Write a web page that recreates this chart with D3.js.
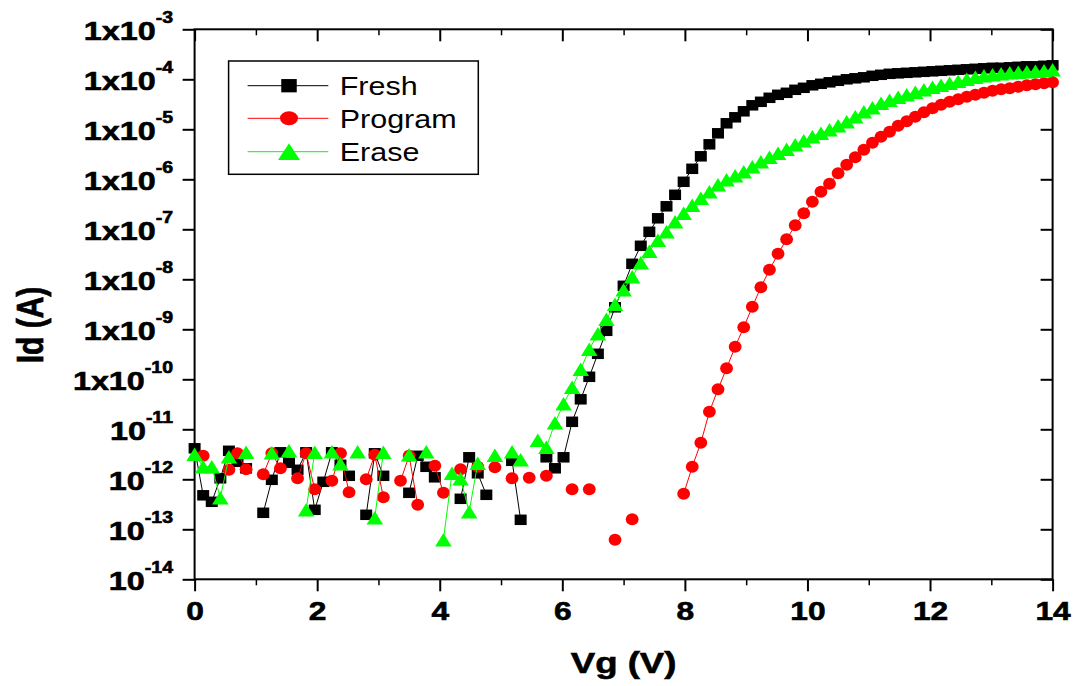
<!DOCTYPE html>
<html>
<head>
<meta charset="utf-8">
<script src="https://cdn.jsdelivr.net/npm/d3@7"></script>
<style>
body{margin:0;background:#fff}
svg{display:block}
</style>
</head>
<body>
<script>
var W = 1081, H = 686;
var L = 194.6, R = 1052.6, T = 29.3, B = 579.3;
var SX = 1.22; // the original picture is stretched sideways, text too

// gate sweep, V
var vg = [0,0.14,0.28,0.42,0.56,0.7,0.84,0.98,1.12,1.26,
  1.4,1.54,1.68,1.82,1.96,2.1,2.24,2.38,2.52,2.66,
  2.8,2.94,3.08,3.22,3.36,3.5,3.64,3.78,3.92,4.06,
  4.2,4.34,4.48,4.62,4.76,4.9,5.04,5.18,5.32,5.46,
  5.6,5.74,5.88,6.02,6.16,6.3,6.44,6.58,6.72,6.86,
  7,7.14,7.28,7.42,7.56,7.7,7.84,7.98,8.12,8.26,
  8.4,8.54,8.68,8.82,8.96,9.1,9.24,9.38,9.52,9.66,
  9.8,9.94,10.08,10.22,10.36,10.5,10.64,10.78,10.92,11.06,
  11.2,11.34,11.48,11.62,11.76,11.9,12.04,12.18,12.32,12.46,
  12.6,12.74,12.88,13.02,13.16,13.3,13.44,13.58,13.72,13.86,
  14];

// log10(Id), null = point not shown
var freshLog = [-11.38,-12.32,-12.45,-11.98,-11.43,-11.65,-11.78,null,-12.67,-12.01,
  -11.46,-11.67,-11.81,-11.46,-12.61,-12.05,-11.46,-11.71,-11.93,null,
  -12.71,-11.48,-11.93,null,null,-12.27,-11.53,-11.75,-11.96,null,
  null,-12.39,-11.56,-11.88,-12.31,null,null,-11.63,-12.81,null,
  null,-11.56,-11.78,-11.56,-10.85,-10.40,-9.95,-9.49,-9.03,-8.56,
  -8.13,-7.69,-7.33,-7.05,-6.78,-6.54,-6.31,-6.05,-5.79,-5.54,
  -5.30,-5.08,-4.88,-4.76,-4.64,-4.52,-4.45,-4.37,-4.31,-4.27,
  -4.21,-4.17,-4.12,-4.09,-4.06,-4.03,-4.00,-3.98,-3.96,-3.93,
  -3.91,-3.89,-3.88,-3.87,-3.86,-3.85,-3.84,-3.83,-3.82,-3.81,
  -3.80,-3.79,-3.78,-3.77,-3.77,-3.76,-3.75,-3.74,-3.74,-3.73,
  -3.72];

var programLog = [null,-11.53,null,null,-11.81,-11.48,-11.80,null,-11.90,-11.48,
  -11.78,null,-11.98,-11.48,-12.20,null,-12.03,-11.48,-12.26,null,
  -12.00,-11.51,-12.36,null,-12.03,-11.53,-12.51,null,-11.73,-12.27,
  null,-11.80,null,-11.75,null,-11.76,null,-11.98,null,-11.97,
  null,-11.93,null,null,-12.20,null,-12.20,null,null,-13.21,
  null,-12.80,null,null,null,null,null,-12.29,-11.75,-11.27,
  -10.65,-10.20,-9.78,-9.35,-8.96,-8.55,-8.16,-7.81,-7.49,-7.20,
  -6.92,-6.68,-6.45,-6.25,-6.09,-5.88,-5.71,-5.56,-5.41,-5.27,
  -5.15,-5.05,-4.93,-4.84,-4.75,-4.66,-4.58,-4.51,-4.45,-4.40,
  -4.35,-4.31,-4.27,-4.23,-4.20,-4.18,-4.15,-4.12,-4.10,-4.08,
  -4.06];

var eraseLog = [-11.50,-11.75,-11.75,-12.37,-11.55,null,-11.46,null,null,-11.47,
  null,-11.43,null,-12.61,-11.46,null,-11.45,-11.69,null,-11.45,
  null,-12.77,-11.46,null,null,-11.51,null,-11.45,null,-13.21,
  -11.88,-11.99,-12.65,-11.68,null,-11.52,null,-11.45,-11.61,null,
  -11.22,-11.36,-10.87,-10.49,-10.16,-9.80,-9.40,-9.09,-8.80,-8.50,
  -8.21,-7.95,-7.67,-7.44,-7.22,-7.05,-6.85,-6.68,-6.52,-6.38,
  -6.25,-6.11,-6.01,-5.93,-5.85,-5.75,-5.65,-5.56,-5.48,-5.40,
  -5.31,-5.23,-5.15,-5.08,-5.01,-4.93,-4.85,-4.75,-4.65,-4.57,
  -4.48,-4.42,-4.36,-4.31,-4.26,-4.21,-4.16,-4.12,-4.08,-4.04,
  -4.00,-3.96,-3.93,-3.91,-3.89,-3.87,-3.86,-3.85,-3.84,-3.83,
  -3.81];

var seriesNames = ["Fresh","Program","Erase"];
var seriesColors = ["#000000","#ff0000","#00ff00"];

var xMajor = [0,2,4,6,8,10,12,14];
var xMinor = [1,3,5,7,9,11,13];
var yExp = [-3,-4,-5,-6,-7,-8,-9,-10,-11,-12,-13,-14];
var yPrefix = ["1x10","1x10","1x10","1x10","1x10","1x10","1x10","1x10","10","10","10","10"];

var FONT = "'Liberation Sans', Arial, sans-serif";

var svg = d3.select("body").append("svg").attr("width",W).attr("height",H)
  .attr("font-family",FONT);

var x = d3.scaleLinear().domain([0,14]).range([L,R]);
var y = d3.scaleLog().domain([1e-14,1e-3]).range([B,T]);

var yMajor = yExp.map(function(e){return Math.pow(10,e);});
var yMinor = y.ticks().filter(function(v){
  var m = v / Math.pow(10, Math.floor(Math.log10(v) + 1e-9));
  return Math.abs(m - 1) > 1e-6;
});

function tidy(g, w){
  g.select(".domain").remove();
  g.selectAll("line").attr("stroke","#000").attr("stroke-width",w);
}

// bottom axis with labels
var xAx = svg.append("g").attr("transform","translate(0,"+B+")")
  .call(d3.axisBottom(x).tickValues(xMajor).tickSize(12).tickSizeOuter(0).tickPadding(10))
  .call(tidy,2)
  .attr("font-family",FONT).attr("font-size",26).attr("font-weight","bold");
xAx.selectAll("text").attr("fill","#000").attr("stroke","#000").attr("stroke-width",0.6)
  .attr("transform","scale("+SX+",1)");

svg.append("g").attr("transform","translate(0,"+B+")")
  .call(d3.axisBottom(x).tickValues(xMinor).tickSize(6).tickSizeOuter(0).tickFormat(""))
  .call(tidy,1.5);

// top axis, ticks inside
svg.append("g").attr("transform","translate(0,"+T+")")
  .call(d3.axisTop(x).tickValues(xMajor).tickSize(-12).tickSizeOuter(0).tickFormat(""))
  .call(tidy,2);
svg.append("g").attr("transform","translate(0,"+T+")")
  .call(d3.axisTop(x).tickValues(xMinor).tickSize(-6).tickSizeOuter(0).tickFormat(""))
  .call(tidy,1.5);

// left axis
svg.append("g").attr("transform","translate("+L+",0)")
  .call(d3.axisLeft(y).tickValues(yMajor).tickSize(12).tickSizeOuter(0).tickFormat(""))
  .call(tidy,2);
svg.append("g").attr("transform","translate("+L+",0)")
  .call(d3.axisLeft(y).tickValues(yMinor).tickSize(6).tickSizeOuter(0).tickFormat(""))
  .call(tidy,1.2);

// right axis, ticks inside
svg.append("g").attr("transform","translate("+R+",0)")
  .call(d3.axisRight(y).tickValues(yMajor).tickSize(-12).tickSizeOuter(0).tickFormat(""))
  .call(tidy,2);
svg.append("g").attr("transform","translate("+R+",0)")
  .call(d3.axisRight(y).tickValues(yMinor).tickSize(-6).tickSizeOuter(0).tickFormat(""))
  .call(tidy,1.2);

// y labels with superscript exponent
yExp.forEach(function(e,i){
  var g = svg.append("g")
    .attr("transform","translate(173,"+(y(yMajor[i])+10.5)+") scale("+SX+",1)");
  var t = g.append("text").attr("text-anchor","end").attr("font-weight","bold")
    .attr("fill","#000").attr("stroke","#000").attr("stroke-width",0.6);
  t.append("tspan").attr("font-size",26.5).text(yPrefix[i]);
  t.append("tspan").attr("font-size",16).attr("dy",-16.5).text(String(e));
});

// frame
svg.append("rect").attr("x",L).attr("y",T).attr("width",R-L).attr("height",B-T)
  .attr("fill","none").attr("stroke","#000").attr("stroke-width",2);

// axis titles
svg.append("g").attr("transform","translate("+((L+R)/2)+",673) scale("+SX+",1)")
  .append("text").attr("text-anchor","middle").attr("font-size",30).attr("font-weight","bold")
  .attr("stroke","#000").attr("stroke-width",0.6)
  .text("Vg (V)");
svg.append("g").attr("transform","translate(43,325) scale("+SX+",1) rotate(-90)")
  .append("text").attr("text-anchor","middle").attr("font-size",30).attr("font-weight","bold")
  .attr("stroke","#000").attr("stroke-width",0.6)
  .text("Id (A)");

// markers
function drawMarker(sel, k, sw, sh){
  if (k === 0) {
    sel.append("rect").attr("x",-sw/2).attr("y",-sh/2).attr("width",sw).attr("height",sh);
  } else if (k === 1) {
    sel.append("ellipse").attr("rx",sw/2).attr("ry",sh/2);
  } else {
    sel.append("path").attr("d","M0,"+(-sh/2)+"L"+(sw/2)+","+(sh/2)+"L"+(-sw/2)+","+(sh/2)+"Z");
  }
}

var markSize = [[12,10.5],[12.8,12],[16.5,13.5]];
var legendSize = [[15.5,13.3],[18,14],[22,16.7]];

var allLogs = [freshLog, programLog, eraseLog];

allLogs.forEach(function(arr,k){
  var pts = vg.map(function(v,i){return {v:v, id: arr[i] == null ? null : Math.pow(10,arr[i])};});
  var line = d3.line()
    .defined(function(d){return d.id != null;})
    .x(function(d){return x(d.v);})
    .y(function(d){return y(d.id);});
  var g = svg.append("g");
  g.append("path").datum(pts).attr("d",line)
    .attr("fill","none").attr("stroke",seriesColors[k]).attr("stroke-width",1);
  g.selectAll("g.m").data(pts.filter(function(d){return d.id != null;}))
    .enter().append("g").attr("class","m")
    .attr("transform",function(d){return "translate("+x(d.v)+","+y(d.id)+")";})
    .attr("fill",seriesColors[k])
    .each(function(){ drawMarker(d3.select(this), k, markSize[k][0], markSize[k][1]); });
});

// legend
svg.append("rect").attr("x",228.6).attr("y",61).attr("width",249.7).attr("height",113.3)
  .attr("fill","#fff").attr("stroke","#000").attr("stroke-width",1.5);
var rowY = [85.7,118.3,151.7];
seriesNames.forEach(function(name,k){
  var g = svg.append("g");
  g.append("line").attr("x1",247.6).attr("x2",328.3).attr("y1",rowY[k]).attr("y2",rowY[k])
    .attr("stroke",seriesColors[k]).attr("stroke-width",1);
  var m = g.append("g").attr("transform","translate(289,"+rowY[k]+")").attr("fill",seriesColors[k]);
  drawMarker(m, k, legendSize[k][0], legendSize[k][1]);
  g.append("g").attr("transform","translate(339.7,"+(rowY[k]+9.3)+") scale("+SX+",1)")
    .append("text").attr("font-size",25).attr("fill","#000").text(name);
});
</script>
</body>
</html>
